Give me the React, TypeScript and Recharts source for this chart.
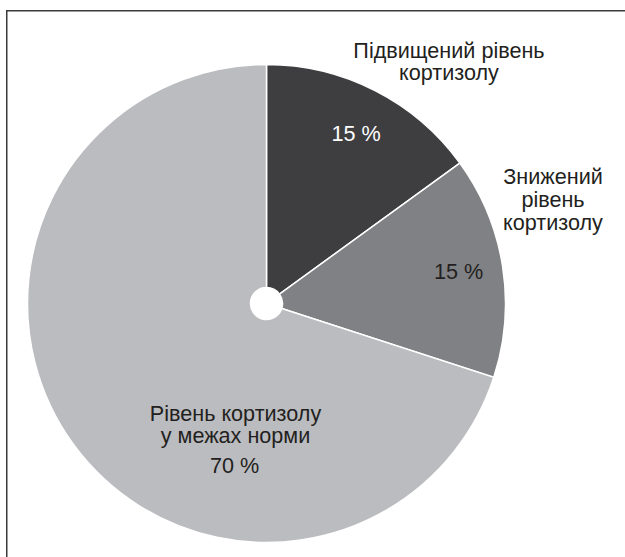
import { PieChart, Pie, Cell } from 'recharts';

// categories (lines split by \n)
const categories = [
  'Підвищений рівень\nкортизолу',
  'Знижений\nрівень\nкортизолу',
  'Рівень кортизолу\nу межах норми',
];
const shares = [15, 15, 70];

const COLORS = ['#3e3e40', '#808184', '#bbbcbf'];
const VALUE_COLORS = ['#ffffff', '#231f20', '#231f20'];

// label placement relative to pie centre (layout only)
const LABEL_LAYOUT = [
  { nameDx: 182.5, nameDy: -246, lineH: 22, valueDx: 89.5, valueDy: -162.5 },
  { nameDx: 286.5, nameDy: -119.5, lineH: 23, valueDx: 192, valueDy: -25 },
  { nameDx: -31, nameDy: 117, lineH: 22, valueDx: -32, valueDy: 169 },
];

const data = categories.map((name, i) => ({ name, value: shares[i] }));

const FONT = '"Liberation Sans", Arial, sans-serif';

const renderLabel = (props: any) => {
  const { cx, cy, index, name, value } = props;
  const lay = LABEL_LAYOUT[index];
  const lines = String(name).split('\n');
  return (
    <g key={`lbl-${index}`}>
      <text
        x={cx + lay.nameDx}
        y={cy + lay.nameDy}
        textAnchor="middle"
        fill="#231f20"
        fontSize={21.6}
        fontFamily={FONT}
      >
        {lines.map((ln, j) => (
          <tspan key={j} x={cx + lay.nameDx} dy={j === 0 ? 0 : lay.lineH}>
            {ln}
          </tspan>
        ))}
      </text>
      <text
        x={cx + lay.valueDx}
        y={cy + lay.valueDy}
        textAnchor="middle"
        fill={VALUE_COLORS[index]}
        fontSize={21.6}
        fontFamily={FONT}
      >
        {`${value} %`}
      </text>
    </g>
  );
};

export default function App() {
  return (
    <div style={{ position: 'fixed', left: 0, top: 0, width: 625, height: 557, background: '#fff' }}>
      <PieChart width={625} height={557} margin={{ top: 0, right: 0, bottom: 0, left: 0 }}>
        {/* frame */}
        <line x1={6.75} y1={10} x2={6.75} y2={557} stroke="#3a3a3a" strokeWidth={1.5} />
        <line x1={6} y1={10.75} x2={625} y2={10.75} stroke="#3a3a3a" strokeWidth={1.5} />
        <Pie
          data={data}
          dataKey="value"
          nameKey="name"
          cx={266.5}
          cy={303.5}
          innerRadius={16}
          outerRadius={239}
          startAngle={90}
          endAngle={-270}
          stroke="#ffffff"
          strokeWidth={1.5}
          label={renderLabel}
          labelLine={false}
          isAnimationActive={false}
        >
          {data.map((_, i) => (
            <Cell key={`cell-${i}`} fill={COLORS[i]} />
          ))}
        </Pie>
      </PieChart>
    </div>
  );
}
